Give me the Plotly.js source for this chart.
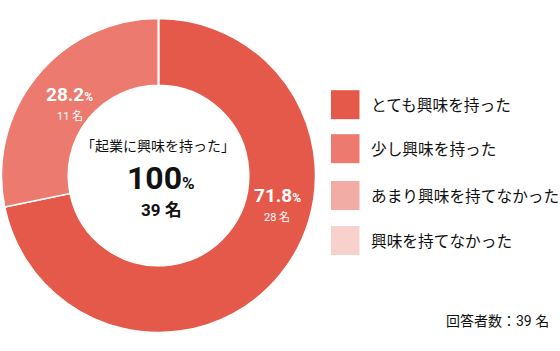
<!DOCTYPE html>
<html>
<head>
<meta charset="utf-8">
<script src="https://cdn.plot.ly/plotly-3.0.1.min.js"></script>
<style>html,body{margin:0;padding:0;background:#fff;}#chart{width:560px;height:351px;}</style>
</head>
<body>
<div id="chart"></div>
<script>
const categories = ["とても興味を持った", "少し興味を持った", "あまり興味を持てなかった", "興味を持てなかった"];
const counts = [28, 11, 0, 0];
const colors = ["#E5594B", "#EC7A6E", "#F2ACA6", "#F8D1CD"];
const centerTitle = "「起業に興味を持った」";
const unit = "名";

const total = counts.reduce((a, b) => a + b, 0);
const pct = counts.map(c => (c / total * 100).toFixed(1));

const FONT = "Roboto, 'Noto Sans CJK JP', sans-serif";
const JP = "'Noto Sans CJK JP', Roboto, sans-serif";
const W = 560, H = 351;
const px = x => x / W, py = y => 1 - y / H;

const trace = {
  type: "pie",
  labels: categories,
  values: counts,
  marker: {colors: colors, line: {color: "#ffffff", width: 1.5}},
  hole: 0.575,
  sort: false,
  direction: "clockwise",
  rotation: 0,
  textinfo: "none",
  hoverinfo: "label+value+percent",
  showlegend: false,
  domain: {x: [px(1.5), px(315.5)], y: [py(332.5), py(18.5)]}
};

const annotations = [];
// slice labels
const slicePos = [{x: 277, y: 195, ny: 217}, {x: 69.5, y: 94, ny: 116}];
slicePos.forEach((p, i) => {
  annotations.push({xref: "paper", yref: "paper", x: px(p.x), y: py(p.y), xanchor: "center", yanchor: "middle", showarrow: false,
    text: "<b>" + pct[i] + "<span style='font-size:12px'>%</span></b>", font: {family: FONT, size: 19, color: "#ffffff"}});
  annotations.push({xref: "paper", yref: "paper", x: px(p.x), y: py(p.ny), xanchor: "center", yanchor: "middle", showarrow: false,
    text: counts[i] + " " + unit, font: {family: FONT, size: 11, color: "#ffffff"}});
});
// center
annotations.push({xref: "paper", yref: "paper", x: px(158), y: py(145), xanchor: "center", yanchor: "middle", showarrow: false,
  text: centerTitle, font: {family: JP, size: 14, color: "#111111"}});
annotations.push({xref: "paper", yref: "paper", x: px(161), y: py(178), xanchor: "center", yanchor: "middle", showarrow: false,
  text: "<b>100<span style='font-size:17px'>%</span></b>", font: {family: FONT, size: 32, color: "#111111"}});
annotations.push({xref: "paper", yref: "paper", x: px(161), y: py(210), xanchor: "center", yanchor: "middle", showarrow: false,
  text: "<b>" + total + " " + unit + "</b>", font: {family: FONT, size: 17, color: "#111111"}});
// footer
annotations.push({xref: "paper", yref: "paper", x: px(551), y: py(321), xanchor: "right", yanchor: "middle", showarrow: false,
  text: "回答者数：" + total + " " + unit, font: {family: FONT, size: 14, color: "#111111"}});

// custom legend
const shapes = [];
const legY = [104.7, 148.7, 195.5, 240.5];
categories.forEach((c, i) => {
  shapes.push({type: "rect", xref: "paper", yref: "paper", x0: px(331), x1: px(359.5), y0: py(legY[i] - 14.5), y1: py(legY[i] + 14.5),
    fillcolor: colors[i], line: {width: 0}});
  annotations.push({xref: "paper", yref: "paper", x: px(369), y: py(legY[i]), xanchor: "left", yanchor: "middle", showarrow: false,
    text: c, font: {family: JP, size: 15.7, color: "#111111"}});
});

const layout = {
  width: W, height: H,
  margin: {l: 0, r: 0, t: 0, b: 0},
  paper_bgcolor: "#ffffff",
  showlegend: false,
  annotations: annotations,
  shapes: shapes
};

Plotly.newPlot("chart", [trace], layout, {displayModeBar: false, staticPlot: true});
</script>
</body>
</html>
